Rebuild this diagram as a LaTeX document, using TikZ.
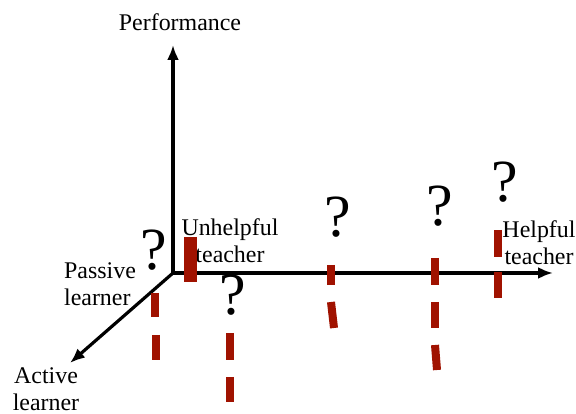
\documentclass[tikz,border=0pt]{standalone}
\usepackage{fontspec}
\setmainfont{Liberation Serif}
\usepackage{tikz}
\usetikzlibrary{arrows.meta,positioning}
\tikzset{>=latex}
\usepackage{xcolor}
\definecolor{mybarred}{RGB}{160,18,0}
\tikzstyle{axis}=[-{Latex[length=7.5,width=6]},line width=1.6pt,black]
\tikzstyle{bar}=[line width=4bp,mybarred]
\tikzstyle{qmark}=[inner sep=0,font=\fontsize{30}{30}\selectfont]
\tikzstyle{lbl}=[inner sep=0,align=center,font=\fontsize{12}{13.5}\selectfont]

\begin{document}
\begin{tikzpicture}[x=0.5bp,y=-0.5bp]
  \useasboundingbox (0,0) rectangle (576,414);
  \coordinate (o) at (173,273);
  \coordinate (perf) at (173,45);
  \coordinate (help) at (553,273);
  \coordinate (act) at (70,363);

  % axes
  \draw[axis] (o) -- (perf);
  \draw[axis] (o) -- (help);
  \draw[axis] (o) -- (act);

  % axis labels
  \node[lbl] (lperf) at (180,22) {Performance};
  \node[lbl,align=left] (lpas) at (100,284) {Passive\\learner};
  \node[lbl] (lact) at (46,389) {Active\\learner};
  \node[lbl] (lunh) at (230,241) {Unhelpful\\teacher};
  \node[lbl] (lhelp) at (539,243) {Helpful\\teacher};

  % red dashes
  \draw[bar,line width=6.5bp] (190,237) -- (190,282);
  \draw[bar] (155,293) -- (155,317);
  \draw[bar] (156,335) -- (156,360);
  \draw[bar] (230,333) -- (230,360);
  \draw[bar] (230,377) -- (230,402);
  \draw[bar] (331,265) -- (331,285);
  \draw[bar] (331,302) -- (334,328);
  \draw[bar] (435,258) -- (435,285);
  \draw[bar] (435,302) -- (435,328);
  \draw[bar] (435,345) -- (437,370);
  \draw[bar] (498,230) -- (498,257);
  \draw[bar] (498,272) -- (498,298);

  % question marks
  \node[qmark] (q1) at (154,250) {?};
  \node[qmark] (q2) at (233,295) {?};
  \node[qmark] (q3) at (338,217) {?};
  \node[qmark] (q4) at (440,206) {?};
  \node[qmark] (q5) at (505,182) {?};
\end{tikzpicture}
\end{document}
